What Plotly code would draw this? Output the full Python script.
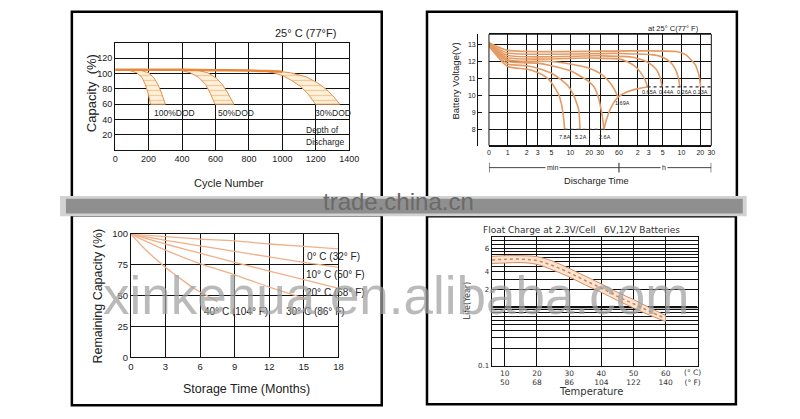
import numpy as np
import plotly.graph_objects as go

W, H = 800, 419

# ---------------- Panel 1: capacity vs cycle number ----------------
cycle_ticks = [0, 200, 400, 600, 800, 1000, 1200, 1400]
capacity_ticks = [20, 40, 60, 80, 100, 120]
main_cycle = [0, 200, 400, 600, 800, 900, 1000]
main_cap = [105, 105, 105, 104.5, 104, 103.5, 102.5]

dod100_left_cycle = [80, 130, 160, 180, 195, 205, 212]
dod100_left_cap = [104.5, 101, 95, 86, 76, 67, 60]
dod100_right_cycle = [150, 200, 230, 255, 275, 290, 300]
dod100_right_cap = [104.5, 101, 95, 86, 76, 67, 60]

dod50_left_cycle = [390, 450, 500, 540, 565, 585, 597]
dod50_left_cap = [104.5, 101, 95, 86, 76, 67, 60]
dod50_right_cycle = [490, 555, 605, 640, 670, 693, 710]
dod50_right_cap = [104.5, 101, 94, 86, 76, 67, 60]

dod30_left_cycle = [870, 950, 1005, 1055, 1110, 1155, 1185, 1198]
dod30_left_cap = [104, 101, 97, 91, 83, 73, 64, 60]
dod30_right_cycle = [960, 1050, 1140, 1210, 1265, 1310, 1343]
dod30_right_cap = [103.5, 101, 96, 88, 79, 69, 60]

# ---------------- Panel 2: voltage vs discharge time (minutes) ----------------
time_tick_min = [0.5, 1, 2, 3, 5, 10, 20, 30, 60, 120, 180, 300, 600, 1200, 1800]
time_tick_text = ["0", "1", "2", "3", "5", "10", "20", "30", "60", "2", "3", "5", "10", "20", "30"]
volt_ticks = [8, 9, 10, 11, 12, 13]

t_7p8 = [0.5, 1, 2, 3, 4, 5, 6, 6.6, 7.2, 7.6, 7.9, 8.1]
v_7p8 = [12.9, 11.7, 11.55, 11.35, 11.1, 10.75, 10.3, 10.0, 9.5, 9.0, 8.5, 8.0]
t_5p2 = [0.5, 1, 2, 3, 5, 7, 9, 11, 12.5, 13.7, 14.3]
v_5p2 = [12.95, 11.85, 11.75, 11.6, 11.3, 10.95, 10.6, 10.1, 9.6, 9.1, 8.0]
t_2p6 = [0.5, 1, 3, 5, 10, 15, 20, 24, 28, 31, 33, 34.5]
v_2p6 = [13.0, 12.0, 11.9, 11.75, 11.45, 11.1, 10.8, 10.5, 9.9, 9.2, 8.6, 8.0]
t_1p69 = [0.5, 1, 5, 10, 20, 30, 41, 50, 58]
v_1p69 = [13.0, 12.1, 12.0, 11.85, 11.6, 11.3, 10.85, 10.4, 9.9]
t_0p65 = [0.5, 1, 20, 60, 80, 105, 130, 155, 172]
v_0p65 = [13.0, 12.22, 12.2, 12.15, 12.0, 11.75, 11.4, 10.95, 10.5]
t_0p44 = [0.5, 1, 30, 100, 150, 200, 240, 270, 295]
v_0p44 = [13.05, 12.35, 12.33, 12.25, 12.05, 11.8, 11.5, 11.1, 10.5]
t_0p26 = [0.5, 1, 60, 200, 300, 400, 470, 530, 565]
v_0p26 = [13.05, 12.5, 12.47, 12.4, 12.25, 11.95, 11.6, 11.1, 10.5]
t_0p13 = [0.5, 1, 100, 500, 700, 850, 1000, 1100, 1170, 1210]
v_0p13 = [13.1, 12.65, 12.62, 12.58, 12.4, 12.1, 11.8, 11.4, 11.0, 10.5]
t_endv = [34.5, 38, 45, 58, 80, 120, 172]
v_endv = [8.0, 8.6, 9.3, 9.9, 10.2, 10.4, 10.5]

current_names = ["7.8A", "5.2A", "2.6A", "1.69A", "0.65A", "0.44A", "0.26A", "0.13A"]
current_label_t = [8.1, 15.1, 35.6, 69, 186, 344, 670, 1222]
current_label_v = [7.58, 7.58, 7.58, 9.53, 10.22, 10.22, 10.22, 10.22]

# ---------------- Panel 3: remaining capacity vs storage time ----------------
month_ticks = [0, 3, 6, 9, 12, 15, 18]
remain_ticks = [0, 25, 50, 75, 100]
m_0c = [0, 3, 6, 9, 12, 15, 18]
cap_0c = [100, 98, 96, 94.5, 92, 90, 88]
m_10c = [0, 3, 6, 9, 12, 15, 18]
cap_10c = [100, 95, 90.5, 86, 81.5, 77, 73]
m_20c = [0, 3, 6, 9, 12, 15, 18]
cap_20c = [100, 92, 84.5, 77, 70, 63, 56]
m_30c = [0, 3, 6, 9, 12, 15]
cap_30c = [100, 87, 76, 67, 57, 48]
m_40c = [0, 1, 2, 3, 4, 5, 6, 7, 7.5]
cap_40c = [100, 90, 81, 73, 66, 59, 53, 48, 45]
temp_names = ["0° C (32° F)", "10° C (50° F)", "20° C (68° F)", "30° C (86° F)", "40° C (104° F)"]
temp_label_m = [15.1, 15.0, 15.0, 13.3, 6.2]
temp_label_cap = [82, 67, 52.8, 37, 37]

# ---------------- Panel 4: float life vs temperature ----------------
temp_ticks = [10, 20, 30, 40, 50, 60]
temp_ticks_f = [50, 68, 86, 104, 122, 140]
temp_c = [6, 10, 15, 20, 25, 30, 35, 40, 45, 50, 55, 60]
life_upper = [7.4, 7.6, 7.6, 7.3, 6.1, 4.6, 3.4, 2.5, 1.8, 1.35, 0.98, 0.72]
life_lower = [5.6, 5.7, 5.8, 5.4, 4.3, 3.3, 2.4, 1.8, 1.3, 0.97, 0.73, 0.57]
life_grid = [0.1, 0.2, 0.3, 0.4, 0.5, 0.6, 0.7, 0.8, 0.9, 1, 2, 3, 4, 5, 6, 7, 8, 9, 10, 12, 14]
life_labels = {0.1: "0.1", 2: "2", 4: "4", 10: "6"}


def PX(x):
    return x / W


def PY(y):
    return 1 - y / H


FONT = "Liberation Sans, Arial, sans-serif"
DV = "DejaVu Sans, sans-serif"
fig = go.Figure()

# ---- panel 1 traces
band_fill = "#fdf1d9"
for lx, ly, rx, ry in [
    (dod100_left_cycle, dod100_left_cap, dod100_right_cycle, dod100_right_cap),
    (dod50_left_cycle, dod50_left_cap, dod50_right_cycle, dod50_right_cap),
    (dod30_left_cycle, dod30_left_cap, dod30_right_cycle, dod30_right_cap),
]:
    fig.add_trace(go.Scatter(
        x=lx + rx[::-1], y=ly + ry[::-1], mode="lines", fill="toself",
        line=dict(color="#e3904e", width=1), fillcolor=band_fill,
        fillpattern=dict(shape="-", fgcolor="#eba460", bgcolor=band_fill, size=5, solidity=0.25),
        xaxis="x", yaxis="y", hoverinfo="skip", showlegend=False))
fig.add_trace(go.Scatter(x=main_cycle, y=main_cap, mode="lines",
                         line=dict(color="#e8873a", width=2.5, shape="spline"),
                         xaxis="x", yaxis="y", hoverinfo="skip", showlegend=False))

# ---- panel 2 traces
for t, v in [(t_7p8, v_7p8), (t_5p2, v_5p2), (t_2p6, v_2p6), (t_1p69, v_1p69),
             (t_0p65, v_0p65), (t_0p44, v_0p44), (t_0p26, v_0p26), (t_0p13, v_0p13),
             (t_endv, v_endv)]:
    fig.add_trace(go.Scatter(x=t, y=v, mode="lines",
                             line=dict(color="#e49a64", width=1.6, shape="spline", smoothing=0.6),
                             xaxis="x2", yaxis="y2", hoverinfo="skip", showlegend=False))
fig.add_trace(go.Scatter(x=[t_7p8[-1], t_2p6[-1]], y=[v_7p8[-1], v_7p8[-1]], mode="lines",
                         line=dict(color="#333", width=1.2, dash="dot"),
                         xaxis="x2", yaxis="y2", hoverinfo="skip", showlegend=False))
fig.add_trace(go.Scatter(x=[t_0p65[-1], time_tick_min[-1]], y=[v_0p65[-1], v_0p65[-1]], mode="lines",
                         line=dict(color="#333", width=1.2, dash="dot"),
                         xaxis="x2", yaxis="y2", hoverinfo="skip", showlegend=False))
# min / h scale bar below the axis
fig.add_trace(go.Scatter(x=[time_tick_min[0], 60, time_tick_min[-1]], y=[0.5, 0.5, 0.5],
                         mode="lines+markers", line=dict(color="#444", width=1),
                         marker=dict(symbol="line-ns-open", size=7, line=dict(color="#444", width=1.2)),
                         xaxis="x5", yaxis="y5", hoverinfo="skip", showlegend=False))

# ---- panel 3 traces
for m, c in [(m_0c, cap_0c), (m_10c, cap_10c), (m_20c, cap_20c), (m_30c, cap_30c), (m_40c, cap_40c)]:
    fig.add_trace(go.Scatter(x=m, y=c, mode="lines",
                             line=dict(color="#f0b088", width=1.3, shape="spline"),
                             xaxis="x3", yaxis="y3", hoverinfo="skip", showlegend=False))

# ---- panel 4 traces
fig.add_trace(go.Scatter(x=[5.9, 69.9], y=[1, 1], mode="lines", line=dict(color="#111", width=2.2),
                         xaxis="x4", yaxis="y4", hoverinfo="skip", showlegend=False))
fig.add_trace(go.Scatter(x=temp_c, y=life_lower, mode="lines",
                         line=dict(color="#d98b5f", width=1, shape="spline"),
                         xaxis="x4", yaxis="y4", hoverinfo="skip", showlegend=False))
fig.add_trace(go.Scatter(x=temp_c, y=life_upper, mode="lines", fill="tonexty", fillcolor="#fce4d2",
                         line=dict(color="#d98b5f", width=1, shape="spline"),
                         xaxis="x4", yaxis="y4", hoverinfo="skip", showlegend=False))
fig.add_trace(go.Scatter(x=temp_c, y=np.sqrt(np.array(life_upper) * np.array(life_lower)), mode="lines",
                         line=dict(color="#c9875a", width=1.5, dash="dot", shape="spline"),
                         xaxis="x4", yaxis="y4", hoverinfo="skip", showlegend=False))

grid = dict(showgrid=True, gridcolor="#111", gridwidth=1, zeroline=False, showline=True,
            linecolor="#111", linewidth=1, mirror=True, ticks="", fixedrange=True)

fig.update_layout(
    width=W, height=H, margin=dict(l=0, r=0, t=0, b=0),
    paper_bgcolor="white", plot_bgcolor="white", showlegend=False,
    font=dict(family=FONT, color="#222"),
    xaxis=dict(domain=[PX(114), PX(352)], range=[0, 1400], tickvals=cycle_ticks, anchor="y",
               tickfont=dict(size=9), **grid),
    yaxis=dict(domain=[PY(148), PY(38)], range=[0, 140], tickvals=capacity_ticks, anchor="x",
               tickfont=dict(size=9), **grid),
    xaxis2=dict(type="log", domain=[PX(494), PX(720)], range=[np.log10(0.5), np.log10(1800)],
                tickvals=time_tick_min, ticktext=time_tick_text, anchor="y2",
                tickfont=dict(size=7), **grid),
    yaxis2=dict(domain=[PY(143.3), PY(29)], range=[7.05, 13.6], tickvals=volt_ticks,
                anchor="free", position=PX(482), showgrid=True, gridcolor="#111", gridwidth=1,
                zeroline=False, showline=True, linecolor="#111", linewidth=1, ticks="inside",
                ticklen=4, tickcolor="#111", tickfont=dict(size=7), fixedrange=True),
    xaxis3=dict(domain=[PX(130), PX(341)], range=[0, 18], tickvals=month_ticks, anchor="y3",
                tickfont=dict(size=9.5), **grid),
    yaxis3=dict(domain=[PY(360.7), PY(234.3)], range=[0, 100], tickvals=remain_ticks, anchor="x3",
                tickfont=dict(size=9.5), **grid),
    xaxis4=dict(domain=[PX(496.7), PX(706)], range=[5.9, 69.9], tickvals=temp_ticks,
                ticktext=[f"{c}<br>{f}" for c, f in zip(temp_ticks, temp_ticks_f)], anchor="y4",
                tickfont=dict(size=7.5, family=DV, color="#333"), **grid),
    yaxis4=dict(type="log", domain=[PY(369.3), PY(237.7)], range=[-1, np.log10(15.6)],
                tickvals=life_grid, ticktext=[life_labels.get(v, "") for v in life_grid], anchor="x4",
                tickfont=dict(size=7, family=DV, color="#333"), **grid),
    xaxis5=dict(type="log", domain=[PX(494), PX(720)], range=[np.log10(0.5), np.log10(1800)],
                visible=False, anchor="y5", fixedrange=True),
    yaxis5=dict(domain=[PY(172), PY(160)], range=[0, 1], visible=False, anchor="x5", fixedrange=True),
)

ann = []


def txt(x, y, s, size, xref="paper", yref="paper", angle=0, xanchor="center", family=FONT, color="#222", **kw):
    ann.append(dict(x=x, y=y, text=s, xref=xref, yref=yref, showarrow=False, textangle=angle,
                    xanchor=xanchor, yanchor="middle", font=dict(size=size, family=family, color=color), **kw))


# panel 1 text
txt(PX(308), PY(28), "25° C (77°F)", 11)
txt(PX(90), PY(90), "Capacity  (%)", 13, angle=-90)
txt(PX(230), PY(182), "Cycle Number", 11)
for s, x, y in [("100%DOD", 222, 48), ("50%DOD", 606, 48), ("30%DOD", 1182, 48),
                ("Depth of", 1127, 26.4), ("Discharge", 1127, 11)]:
    txt(x, y, s, 8.5, xref="x", yref="y", xanchor="left")

# panel 2 text
txt(PX(682), PY(23), "at 25° C(77° F)", 7.5)
txt(PX(460), PY(77), "Battery Voltage(V)", 9.5, angle=-90)
txt(PX(603), PY(180), "Discharge Time", 9.3)
for s, t, v in zip(current_names, current_label_t, current_label_v):
    txt(np.log10(t), v, s, 5.5, xref="x2", yref="y2")
txt(np.log10(5.1), PY(166), "min", 7, xref="x5", bgcolor="white")
txt(np.log10(312), PY(166), "h", 7, xref="x5", bgcolor="white")

# panel 3 text
txt(PX(97), PY(298), "Remaining Capacity (%)", 12.5, angle=-90)
txt(PX(248), PY(393), "Storage Time (Months)", 12.5)
for s, m, c in zip(temp_names, temp_label_m, temp_label_cap):
    txt(m, c, s, 10, xref="x3", yref="y3", xanchor="left")

# panel 4 text
txt(PX(588), PY(230), "Float Charge at 2.3V/Cell   6V,12V Batteries", 9, family=DV, color="#333")
txt(PX(472), PY(302), "Life(Year)", 8, angle=-90, family=DV, color="#333")
txt(PX(598), PY(396), "Temperature", 10, family=DV, color="#333")
txt(PX(701), PY(381.5), "(° C)<br>(° F)", 7.5, family=DV, color="#333")

# watermarks
txt(PX(402), PY(201), "trade.china.cn", 24, color="#6a6a6a")
txt(PX(399), PY(297), "xinkehua.en.alibaba.com", 53, color="rgba(160,160,160,0.72)")

fig.update_layout(annotations=ann)

shapes = []
frame = dict(type="rect", xref="paper", yref="paper", line=dict(color="black", width=2.5),
             fillcolor="rgba(0,0,0,0)")
for x0, y0, x1, y1 in [(70, 6, 385, 205), (431, 6, 746, 205), (70, 215, 385, 410), (431, 216, 745, 409)]:
    shapes.append(dict(frame, x0=PX(x0), x1=PX(x1), y0=PY(y1), y1=PY(y0)))
# panel 2 plot-box
shapes.append(dict(type="rect", xref="x2 domain", yref="y2 domain", x0=0, x1=1, y0=0, y1=1,
                   line=dict(color="#111", width=1), fillcolor="rgba(0,0,0,0)"))
# grey separator band
shapes.append(dict(type="rect", xref="paper", yref="paper", x0=PX(58), x1=PX(756), y0=PY(216), y1=PY(195),
                   line=dict(width=0), fillcolor="#d2d2d2"))
shapes.append(dict(type="rect", xref="paper", yref="paper", x0=PX(64), x1=PX(752), y0=PY(213), y1=PY(198),
                   line=dict(width=0), fillcolor="#8f8f8f"))
fig.update_layout(shapes=shapes)

fig.write_html("out.html", config={"displayModeBar": False},
               post_script="document.body.style.margin='0';document.body.style.overflow='hidden';")
